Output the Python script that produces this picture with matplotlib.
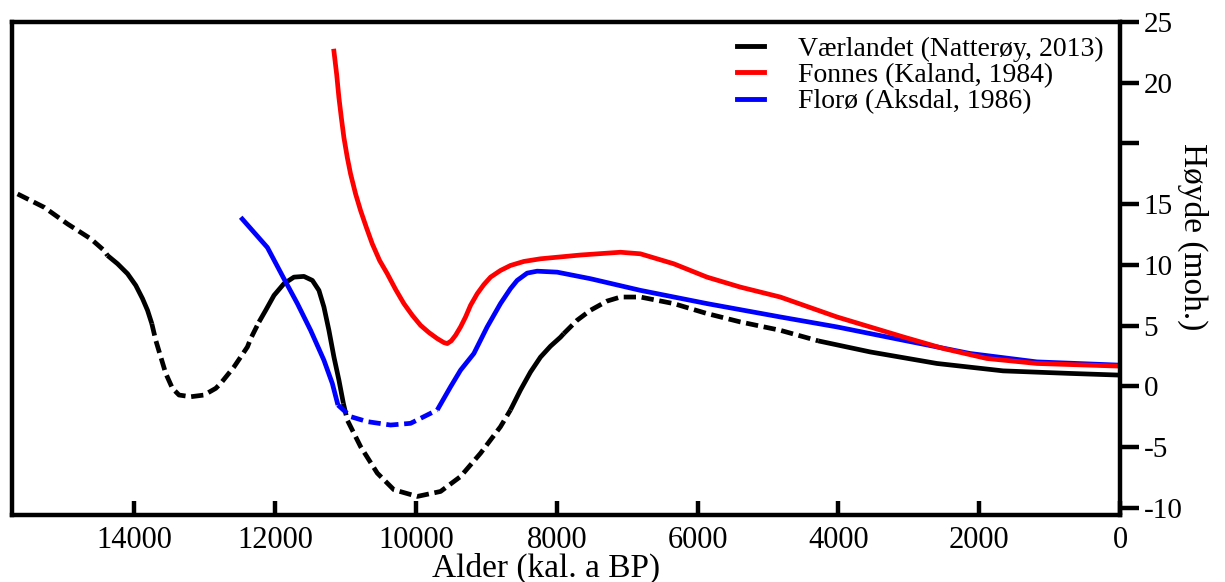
import numpy as np
import matplotlib
matplotlib.use("Agg")
import matplotlib.pyplot as plt

plt.rcParams['font.family'] = ['Liberation Serif', 'DejaVu Serif']

# Værlandet (Natterøy, 2013)
black_age = [15661, 15283, 14951, 14620, 14431, 14383, 14241, 14099, 13982, 13886,
             13815, 13754, 13698, 13627, 13556, 13461, 13367, 13201, 13012, 12846,
             12775, 12586, 12396, 12349, 12231, 12136, 12018, 11877, 11735, 11593,
             11473, 11380, 11309, 11238, 11167, 11096, 11033, 10977, 10788, 10551,
             10315, 9983, 9652, 9368, 9084, 8801, 8659, 8517, 8375, 8233,
             8091, 7949, 7902, 7712, 7523, 7286, 7097, 6813, 6340, 5867,
             5394, 4826, 4287, 3549, 2602, 1661, 710, 0]
black_h = [15.84, 14.74, 13.37, 12.14, 11.18, 10.77, 10.09, 9.27, 8.31, 7.22,
           6.26, 5.16, 3.79, 2.42, 1.06, -0.17, -0.72, -0.86, -0.72, -0.17,
           0.24, 1.60, 3.24, 3.93, 5.30, 6.26, 7.49, 8.45, 8.99, 9.05,
           8.72, 7.90, 6.53, 4.61, 2.42, 0.51, -1.40, -2.78, -4.97, -7.15,
           -8.52, -9.07, -8.66, -7.43, -5.51, -3.33, -1.95, -0.31, 1.17, 2.40,
           3.30, 4.04, 4.34, 5.44, 6.26, 7.02, 7.35, 7.35, 6.81, 5.99,
           5.30, 4.61, 3.74, 2.83, 1.88, 1.27, 1.06, 0.92]
# ages where the line style switches (first piece dashed)
black_breaks = [14383, 13754, 12231, 11033, 8659, 7902, 4287]

# Fonnes (Kaland, 1984)
red_age = [11167, 11128, 11096, 11062, 11025, 10977, 10930, 10859, 10788, 10707,
           10622, 10518, 10409, 10291, 10173, 10054, 9936, 9818, 9699, 9605,
           9557, 9500, 9439, 9368, 9297, 9226, 9131, 9038, 8942, 8801,
           8659, 8470, 8233, 7665, 7097, 6813, 6340, 5867, 5394, 4826,
           4021, 3076, 2508, 1892, 1182, 0]
red_h = [27.60, 25.69, 23.77, 22.13, 20.48, 18.84, 17.48, 15.84, 14.47, 13.10,
         11.73, 10.36, 9.27, 7.98, 6.81, 5.85, 5.02, 4.43, 3.93, 3.60,
         3.52, 3.74, 4.20, 4.89, 5.71, 6.67, 7.63, 8.37, 8.99, 9.54,
         9.95, 10.28, 10.50, 10.81, 11.04, 10.91, 10.09, 8.99, 8.17, 7.35,
         5.71, 4.06, 3.11, 2.29, 1.88, 1.66]

# Florø (Aksdal, 1986)
blue_age = [12491, 12112, 11877, 11686, 11498, 11309, 11190, 11110, 10930, 10693,
            10362, 10078, 9699, 9510, 9368, 9179, 8990, 8801, 8659, 8564,
            8422, 8280, 7996, 7523, 6813, 5867, 4826, 4021, 3076, 2129,
            1182, 0]
blue_h = [13.92, 11.43, 8.86, 6.81, 4.61, 2.15, 0.24, -1.54, -2.50, -2.91,
          -3.19, -3.05, -1.95, -0.04, 1.33, 2.70, 4.89, 6.81, 8.04, 8.72,
          9.32, 9.48, 9.40, 8.86, 7.90, 6.81, 5.71, 4.89, 3.79, 2.70,
          2.01, 1.74]
# first piece solid
blue_breaks = [11110, 9699]

y_ticks = [-10, -5, 0, 5, 10, 15, 20, 25, 30]
y_labels = ['-10', '-5', '0', '5', '10', '15', '', '20', '25']
x_ticks = [14000, 12000, 10000, 8000, 6000, 4000, 2000, 0]

LW = 3.4


def draw_pieces(ax, age, h, breaks, color, first_dashed):
    age = np.array(age)
    h = np.array(h)
    edges = [age.max()] + breaks + [age.min()]
    dashed = first_dashed
    for hi, lo in zip(edges[:-1], edges[1:]):
        m = (age <= hi) & (age >= lo)
        if dashed:
            ax.plot(age[m], h[m], color=color, lw=LW, ls=(0, (2.6, 1.2)),
                    dash_capstyle='butt', dash_joinstyle='round')
        else:
            ax.plot(age[m], h[m], color=color, lw=LW, solid_joinstyle='round',
                    solid_capstyle='butt')
        dashed = not dashed


fig = plt.figure(figsize=(12.25, 5.82), dpi=100)
ax = fig.add_axes([0.0098, 0.1151, 0.9045, 0.8471])

draw_pieces(ax, black_age, black_h, black_breaks, 'black', True)
draw_pieces(ax, blue_age, blue_h, blue_breaks, '#0000ff', False)
ax.plot(red_age, red_h, color='#ff0000', lw=LW, solid_joinstyle='round')

ax.set_xlim(15740, 0)
ax.set_ylim(-10.6, 30)

for s in ax.spines.values():
    s.set_linewidth(3.2)

ax.yaxis.tick_right()
ax.yaxis.set_label_position('right')
ax.set_yticks(y_ticks)
ax.set_yticklabels(y_labels)
ax.set_xticks(x_ticks)
ax.tick_params(axis='y', direction='out', length=14, width=3.2, pad=3, labelsize=21)
ax.tick_params(axis='x', direction='in', length=10, width=3.2, pad=8, labelsize=22)

ax.set_xlabel('Alder (kal. a BP)', fontsize=24, labelpad=0)
ax.xaxis.set_label_coords(0.482, -0.077)
ax.set_ylabel('Høyde (moh.)', fontsize=24, rotation=270, labelpad=0)
ax.yaxis.set_label_coords(1.080, 0.565)

handles = [plt.Line2D([], [], color=c, lw=3.5) for c in ['black', '#ff0000', '#0000ff']]
ax.legend(handles, ['Værlandet (Natterøy, 2013)', 'Fonnes (Kaland, 1984)', 'Florø (Aksdal, 1986)'],
          loc='upper right', bbox_to_anchor=(0.985, 0.971), frameon=False, fontsize=20,
          handlelength=1.0, handletextpad=1.2, labelspacing=0.03, borderpad=0,
          borderaxespad=0)

fig.savefig('out.png', dpi=100)
